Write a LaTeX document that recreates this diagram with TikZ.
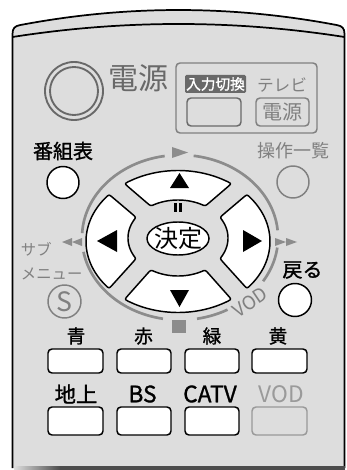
\documentclass[tikz,border=0pt]{standalone}
\usepackage{fontspec}
\usetikzlibrary{calc}
\newfontfamily\jp{Noto Sans CJK JP}
\newfontfamily\jpb[FakeBold=1.2]{Noto Sans CJK JP}
\definecolor{body}{RGB}{221,221,221}
\definecolor{tgray}{RGB}{128,128,128}
\definecolor{dgray}{RGB}{105,105,105}
\definecolor{agray}{RGB}{140,140,140}
\newcommand{\fs}[1]{\fontsize{#1pt}{#1pt}\selectfont}
\newcommand{\padbtn}[5]{%
 \pgfmathsetmacro\oA{#2+2.5}\pgfmathsetmacro\oB{#3-2.5}%
 \pgfmathsetmacro\iA{#4+5}\pgfmathsetmacro\iB{#5-5}%
 \coordinate (#1oa) at ({178+92*cos(#2)},{241.5+71*sin(#2)});
 \coordinate (#1ob) at ({178+92*cos(#3)},{241.5+71*sin(#3)});
 \coordinate (#1ia) at ({178+50*cos(#4)},{238+38*sin(#4)});
 \coordinate (#1ib) at ({178+50*cos(#5)},{238+38*sin(#5)});
 \draw[pad] ({178+92*cos(\oA)},{241.5+71*sin(\oA)})
   -- plot[domain=\oA:\oB, samples=30, variable=\t] ({178+92*cos(\t)},{241.5+71*sin(\t)})
   .. controls (#1ob) .. ($(#1ob)!4pt!(#1ib)$) -- ($(#1ib)!4pt!(#1ob)$)
   .. controls (#1ib) .. ({178+50*cos(\iB)},{238+38*sin(\iB)})
   -- plot[domain=\iB:\iA, samples=30, variable=\t] ({178+50*cos(\t)},{238+38*sin(\t)})
   .. controls (#1ia) .. ($(#1ia)!4pt!(#1oa)$) -- ($(#1oa)!4pt!(#1ia)$)
   .. controls (#1oa) .. ({178+92*cos(\oA)},{241.5+71*sin(\oA)}) -- cycle;
}
\begin{document}
\begin{tikzpicture}[x=0.75pt,y=-0.75pt,font=\jp,
  lbl/.style={inner sep=0pt, outer sep=0pt},
  blbl/.style={inner sep=0pt, outer sep=0pt, font=\jpb},
  btn/.style={draw=black, fill=white, line width=1.1pt, rounded corners=3pt},
  gbtn/.style={draw=tgray, line width=1.1pt, rounded corners=3pt},
  arcl/.style={draw=agray, line width=2pt},
  pad/.style={draw=black, fill=white, line width=1.1pt, line join=round},
  ]
\useasboundingbox (0,0) rectangle (346,470);
% body
\fill[body] (12.5,468) -- (12.5,34) .. controls (12.5,28) and (15,26.05) .. (20,25.1)
  .. controls (125.7,5) and (231.3,5) .. (337,25.1)
  .. controls (342,26.05) and (344.5,28) .. (344.5,34) -- (344.5,468) -- cycle;
\draw[line width=1.3pt] (12.5,468) -- (12.5,34) .. controls (12.5,28) and (15,26.05) .. (20,25.1)
  .. controls (125.7,5) and (231.3,5) .. (337,25.1)
  .. controls (342,26.05) and (344.5,28) .. (344.5,34) -- (344.5,468);
\draw[line width=1.3pt] (12.5,37) .. controls (123.2,19.67) and (233.8,19.67) .. (344.5,37);
\shade[left color=body, right color=black!70] (14,466) rectangle (60,469.5);
\fill[black!70] (60,466) rectangle (345.2,469.5);
% power
\draw[dgray, line width=1.4pt] (74,91) circle[radius=21.75pt];
\draw[dgray, line width=1.4pt] (74,91) circle[radius=18pt];
\node[lbl, text=dgray] (power) at (138.5,78) {\fs{22.5}電源};
% input box
\draw[gbtn] (176,63) rectangle (317,133);
\node[blbl, fill=dgray, text=white, minimum width=45.75pt, minimum height=13.5pt, rounded corners=1pt] (input) at (215.5,84) {\fs{11}入力切換};
\node[lbl, text=tgray] (tv) at (282,85) {\fs{12.5}テレビ};
\draw[gbtn, draw=dgray] (187,98) rectangle (241,126);
\draw[gbtn] (256,98) rectangle (309,126);
\node[lbl, text=tgray] (tvpower) at (282.5,112) {\fs{15}電源};
% guide & list
\node[blbl] (epg) at (63,151) {\fs{15}番組表};
\draw[black, fill=white, line width=1.1pt] (63,182.5) circle[radius=12pt];
\node[lbl, text=tgray] (list) at (293,151) {\fs{13.5}操作一覧};
\draw[tgray, line width=1.1pt] (293,182) circle[radius=12pt];
% submenu
\node[lbl, text=tgray, anchor=west] (sub1) at (21,249) {\fs{11.5}サブ};
\node[lbl, text=tgray, anchor=west] (sub2) at (21,273.5) {\fs{11.5}メニュー};
\draw[tgray, line width=1.1pt] (64.5,301.5) circle[radius=12.375pt];
\node[lbl, text=tgray] (s) at (64.5,302) {\fs{20}S};
% back
\node[blbl] (back) at (302.5,270) {\fs{15}戻る};
\draw[black, fill=white, line width=1.1pt] (295,300) circle[radius=12.375pt];
% ring arcs
\foreach \a/\b in {278/355, 367/392, 61/80, 100/170, 183/261}
  \draw[arcl] plot[domain=\a:\b, samples=40, variable=\t] ({180+98*cos(\t)},{237.5+82.5*sin(\t)});
\fill[agray] (172,147) -- (172,158) -- (188,152.5) -- cycle;
\fill[agray] (62,242) -- (72,238) -- (72,246) -- cycle;
\fill[agray] (72,242) -- (82,238) -- (82,246) -- cycle;
\fill[agray] (297,242) -- (286,238) -- (286,246) -- cycle;
\fill[agray] (286,242) -- (275,238) -- (275,246) -- cycle;
\fill[agray] (172,320) rectangle (186,333);
\node[lbl, text=tgray, rotate=34] (vodarc) at (250,302) {\fs{14}VOD};
% d-pad
\padbtn{up}{234.5}{305.5}{237}{303}
\padbtn{lf}{138.5}{221.5}{147}{213}
\padbtn{dn}{54.5}{125.5}{57}{123}
\padbtn{rt}{-41.5}{41.5}{-33}{33}
\fill[black] (170,188) -- (189,188) -- (179.5,173) -- cycle;
\fill[black] (170,290) -- (189,290) -- (179.5,307) -- cycle;
\fill[black] (117,230) -- (117,252) -- (97,241) -- cycle;
\fill[black] (243,230) -- (243,252) -- (262,241) -- cycle;
\fill[black] (174,203) rectangle (177,212);
\fill[black] (179,203) rectangle (182,212);
\draw[black, fill=white, line width=1.1pt] (178,238.5) ellipse[x radius=23.25pt, y radius=12.375pt];
\node[lbl] (ok) at (178,238.5) {\fs{18}決定};
% colour buttons
\node[blbl] (blue) at (76,336) {\fs{14}青};
\node[blbl] (red) at (143.5,336) {\fs{14}赤};
\node[blbl] (green) at (212,336) {\fs{14}緑};
\node[blbl] (yellow) at (278,336) {\fs{14}黄};
\draw[btn] (48,349) rectangle (103,373);
\draw[btn] (117,349) rectangle (171,373);
\draw[btn] (185,349) rectangle (239,373);
\draw[btn] (252,349) rectangle (307,373);
% broadcast buttons
\node[blbl] (terr) at (76,394) {\fs{16}地上};
\node[blbl] (bs) at (142.5,394) {\fs{17}BS};
\node[blbl] (catv) at (210,394) {\fs{17}CATV};
\node[lbl, text=tgray!80] (vod) at (281,394) {\fs{17}VOD};
\draw[btn] (48,407) rectangle (103,435);
\draw[btn] (117,407) rectangle (171,435);
\draw[btn] (185,407) rectangle (239,435);
\draw[gbtn, draw=tgray!80] (252,407) rectangle (307,435);
\end{tikzpicture}
\end{document}
